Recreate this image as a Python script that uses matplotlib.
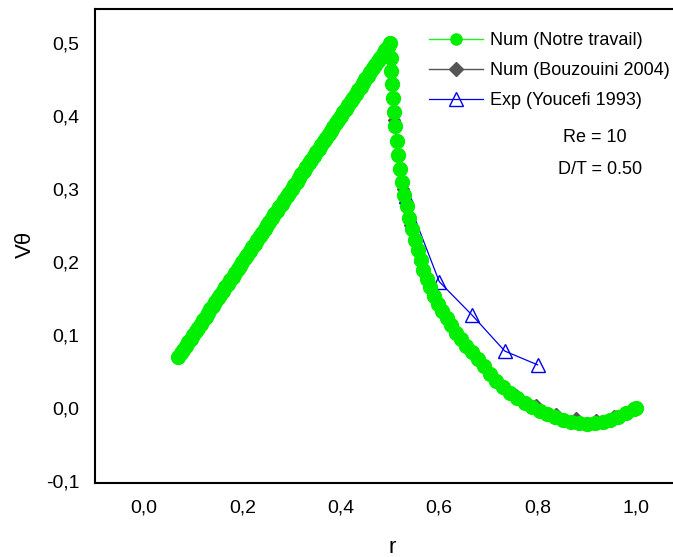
import matplotlib
matplotlib.use("Agg")
import matplotlib.pyplot as plt

plt.rcParams['font.family'] = ['Liberation Sans', 'DejaVu Sans']

# Num (Notre travail): linear rise up to r = 0.5 ...
r_rise = [0.070, 0.075, 0.080, 0.085, 0.090, 0.095, 0.100, 0.105, 0.110, 0.115,
          0.120, 0.125, 0.130, 0.135, 0.140, 0.145, 0.150, 0.155, 0.160, 0.165,
          0.170, 0.175, 0.180, 0.185, 0.190, 0.195, 0.200, 0.205, 0.210, 0.215,
          0.220, 0.225, 0.230, 0.235, 0.240, 0.245, 0.250, 0.255, 0.260, 0.265,
          0.270, 0.275, 0.280, 0.285, 0.290, 0.295, 0.300, 0.305, 0.310, 0.315,
          0.320, 0.325, 0.330, 0.335, 0.340, 0.345, 0.350, 0.355, 0.360, 0.365,
          0.370, 0.375, 0.380, 0.385, 0.390, 0.395, 0.400, 0.405, 0.410, 0.415,
          0.420, 0.425, 0.430, 0.435, 0.440, 0.445, 0.450, 0.455, 0.460, 0.465,
          0.470, 0.475, 0.480, 0.485, 0.490, 0.495, 0.500]
v_rise = [0.070, 0.075, 0.080, 0.085, 0.090, 0.095, 0.100, 0.105, 0.110, 0.115,
          0.120, 0.125, 0.130, 0.135, 0.140, 0.145, 0.150, 0.155, 0.160, 0.165,
          0.170, 0.175, 0.180, 0.185, 0.190, 0.195, 0.200, 0.205, 0.210, 0.215,
          0.220, 0.225, 0.230, 0.235, 0.240, 0.245, 0.250, 0.255, 0.260, 0.265,
          0.270, 0.275, 0.280, 0.285, 0.290, 0.295, 0.300, 0.305, 0.310, 0.315,
          0.320, 0.325, 0.330, 0.335, 0.340, 0.345, 0.350, 0.355, 0.360, 0.365,
          0.370, 0.375, 0.380, 0.385, 0.390, 0.395, 0.400, 0.405, 0.410, 0.415,
          0.420, 0.425, 0.430, 0.435, 0.440, 0.445, 0.450, 0.455, 0.460, 0.465,
          0.470, 0.475, 0.480, 0.485, 0.490, 0.495, 0.500]
# ... then decay towards the outer wall
r_fall = [0.501, 0.502, 0.504, 0.506, 0.508, 0.511, 0.514, 0.517, 0.521, 0.525,
          0.529, 0.534, 0.539, 0.544, 0.550, 0.556, 0.562, 0.568, 0.575, 0.582,
          0.590, 0.598, 0.606, 0.615, 0.624, 0.634, 0.644, 0.655, 0.666, 0.678,
          0.690, 0.703, 0.716, 0.730, 0.744, 0.759, 0.774, 0.789, 0.805, 0.820,
          0.836, 0.852, 0.868, 0.884, 0.900, 0.916, 0.932, 0.948, 0.964, 0.980,
          0.995, 1.000]
v_fall = [0.480, 0.462, 0.444, 0.425, 0.406, 0.386, 0.366, 0.347, 0.328, 0.309,
          0.292, 0.276, 0.260, 0.245, 0.230, 0.216, 0.202, 0.189, 0.177, 0.165,
          0.154, 0.143, 0.133, 0.123, 0.113, 0.103, 0.094, 0.085, 0.076, 0.067,
          0.058, 0.046, 0.037, 0.029, 0.021, 0.013, 0.007, 0.001, -0.004, -0.008,
          -0.012, -0.016, -0.019, -0.021, -0.022, -0.021, -0.019, -0.016, -0.012, -0.007,
          -0.002, 0.000]

# Num (Bouzouini 2004)
r_bouz = [0.50, 0.504, 0.509, 0.516, 0.526, 0.541, 0.561, 0.588, 0.620, 0.660,
          0.700, 0.755, 0.796, 0.837, 0.878, 0.918, 0.955, 0.996]
v_bouz = [0.50, 0.445, 0.395, 0.345, 0.300, 0.250, 0.200, 0.155, 0.118, 0.080,
          0.050, 0.018, 0.004, -0.008, -0.014, -0.016, -0.011, -0.002]

# Exp (Youcefi 1993)
r_exp = [0.533, 0.600, 0.667, 0.733, 0.800]
v_exp = [0.290, 0.173, 0.127, 0.078, 0.059]

x_ticks = [0.0, 0.2, 0.4, 0.6, 0.8, 1.0]
x_labels = ['0,0', '0,2', '0,4', '0,6', '0,8', '1,0']
y_ticks = [-0.1, 0.0, 0.1, 0.2, 0.3, 0.4, 0.5]
y_labels = ['-0,1', '0,0', '0,1', '0,2', '0,3', '0,4', '0,5']

fig = plt.figure(figsize=(6.73, 5.57), dpi=100)
ax = fig.add_axes([0.1409, 0.133, 0.8773, 0.8515])

h_exp, = ax.plot(r_exp, v_exp, color='#0000ee', lw=0.9, marker='^', ms=9.5,
                 mfc='none', mec='#0000ee', mew=1.0, label='Exp (Youcefi 1993)', zorder=2)
h_bouz, = ax.plot(r_bouz, v_bouz, color='#555555', lw=1.0, marker='D', ms=6,
                  mfc='#555555', mec='#555555', label='Num (Bouzouini 2004)', zorder=3)
h_num, = ax.plot(r_rise + r_fall, v_rise + v_fall, color='#22ee22', lw=1.0,
                 marker='o', ms=10, mfc='#00ee00', mec='#00ee00',
                 label='Num (Notre travail)', zorder=4)

ax.set_xlim(-0.1, 1.1)
ax.set_ylim(-0.1027, 0.547)
ax.set_xticks(x_ticks)
ax.set_xticklabels(x_labels)
ax.set_yticks(y_ticks)
ax.set_yticklabels(y_labels)
ax.tick_params(axis='both', length=0, labelsize=14)
ax.tick_params(axis='x', pad=12)
ax.tick_params(axis='y', pad=11)
for s in ax.spines.values():
    s.set_linewidth(1.5)
ax.spines['right'].set_visible(False)

ax.set_xlabel('r', fontsize=16)
ax.set_ylabel('V\u03b8', fontsize=16)
ax.xaxis.set_label_coords(0.504, -0.114)
ax.yaxis.set_label_coords(-0.099, 0.502)

leg = fig.legend(handles=[h_num, h_bouz, h_exp], loc='upper left',
                 bbox_to_anchor=(429 / 673, 1 - 32 / 557), frameon=False,
                 fontsize=13, handlelength=3.0, handletextpad=0.4,
                 labelspacing=0.72, borderpad=0, borderaxespad=0)
for h, ms in zip(leg.legend_handles, [8, 7.5, 9.5]):
    h.set_markersize(ms)

fig.text(595 / 673, 1 - 137 / 557, 'Re = 10', fontsize=13, ha='center', va='center')
fig.text(600 / 673, 1 - 170 / 557, 'D/T = 0.50', fontsize=13, ha='center', va='center')

fig.savefig('out.png', dpi=100)
